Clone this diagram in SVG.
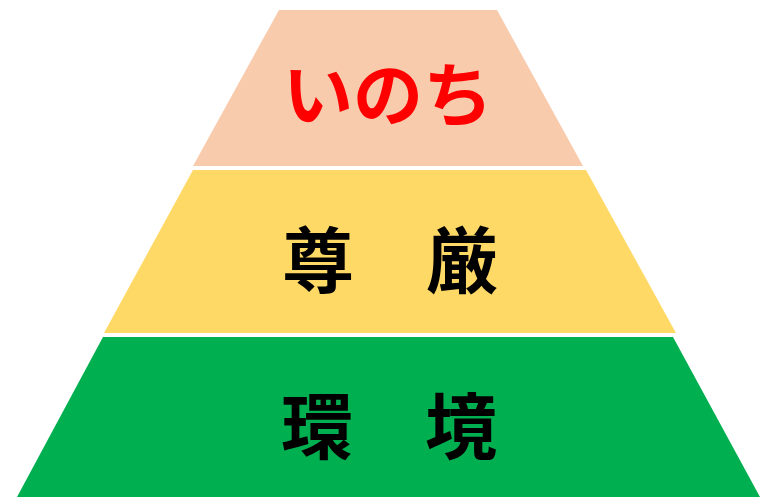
<svg xmlns="http://www.w3.org/2000/svg" width="765" height="497" viewBox="0 0 765 497">
<style>
.lbl{font-family:"Noto Sans CJK JP","Noto Sans CJK SC",sans-serif;text-anchor:middle;dominant-baseline:central;font-weight:700}
</style>
<rect width="765" height="497" fill="#ffffff"/>
<g id="node-inochi">
<polygon points="279,10 497,10 583,166 193,166" fill="#F8CBAD"/>
<text class="lbl" x="388" y="90" font-size="70" font-weight="400" fill="#FF0000">いのち</text>
</g>
<g id="node-songen">
<polygon points="193,170 586,170 676,333 104,333" fill="#FFD966"/>
<text class="lbl" x="390" y="255" font-size="72" fill="#000000">尊　厳</text>
</g>
<g id="node-kankyo">
<polygon points="103,337 673,337 760,497 17,497" fill="#00B050"/>
<text class="lbl" x="389" y="421" font-size="72" fill="#000000">環　境</text>
</g>
<g id="connectors"></g>
</svg>
